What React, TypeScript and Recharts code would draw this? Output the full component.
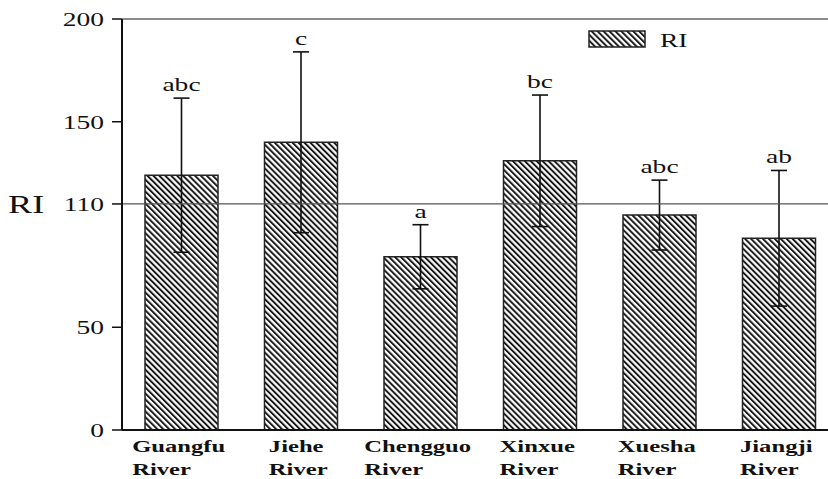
import React from 'react';
import { BarChart, Bar, XAxis, YAxis, ErrorBar, ReferenceLine, LabelList, Legend } from 'recharts';

const categories = ['Guangfu River', 'Jiehe River', 'Chengguo River', 'Xinxue River', 'Xuesha River', 'Jiangji River'];
const riValues = [124, 140, 84.3, 131, 104.6, 93.3];
const riErrors = [37.5, 44, 15.6, 32, 17, 33];
const sigLetters = ['abc', 'c', 'a', 'bc', 'abc', 'ab'];
const yTicks = [0, 50, 110, 150, 200];
const refValue = 110;

const data = categories.map((name, i) => ({ name, ri: riValues[i], err: riErrors[i], sig: sigLetters[i] }));

const FONT = "'Liberation Serif', 'DejaVu Serif', serif";
const SX = 1.45;

let measureCtx: CanvasRenderingContext2D | null = null;
function measure(text: string, font: string): number {
  if (!measureCtx) {
    const c = document.createElement('canvas');
    measureCtx = c.getContext('2d');
  }
  if (!measureCtx) return text.length * 8;
  measureCtx.font = font;
  return measureCtx.measureText(text).width;
}

const YTick = (props: any) => {
  const { x, y, payload } = props;
  return (
    <g transform={`translate(${x - 6},${y}) scale(${SX},1)`}>
      <text x={0} y={0} dy="0.36em" textAnchor="end" fontSize={19} fontFamily={FONT} fill="#111">
        {payload.value}
      </text>
    </g>
  );
};

const XTick = (props: any) => {
  const { x, y, payload } = props;
  const lines = String(payload.value).split(' ');
  const fs = 17;
  const w = Math.max(...lines.map((l) => measure(l, `bold ${fs}px 'Liberation Serif'`))) * SX;
  const left = x - w / 2 - 3;
  return (
    <g transform={`translate(${left},${y}) scale(${SX},1)`}>
      {lines.map((l, i) => (
        <text key={i} x={0} y={22 + i * 23} textAnchor="start" fontSize={fs} fontWeight="bold" fontFamily={FONT} fill="#111">
          {l}
        </text>
      ))}
    </g>
  );
};

const SigLabel = (props: any) => {
  const vb = props.viewBox || props;
  const { x, y, width, height } = vb;
  const index = props.index;
  const v = riValues[index];
  const e = riErrors[index];
  if (v === undefined || !height) return null;
  const ppu = height / v;
  const ty = y - e * ppu - 7;
  return (
    <g transform={`translate(${x + width / 2},${ty}) scale(${SX},1)`}>
      <text x={0} y={0} textAnchor="middle" fontSize={19} fontFamily={FONT} fill="#111">
        {props.value}
      </text>
    </g>
  );
};

const LegendContent = () => (
  <svg width={120} height={24} style={{ display: 'block', overflow: 'visible' }}>
    <defs>
      <pattern id="hatchLegend" patternUnits="userSpaceOnUse" width={4.2} height={4.2} patternTransform="rotate(-45)">
        <rect width={4.2} height={4.2} fill="#fff" />
        <line x1={1} y1={0} x2={1} y2={4.2} stroke="#111" strokeWidth={1.9} />
      </pattern>
    </defs>
    <rect x={1} y={2} width={56} height={16} fill="url(#hatchLegend)" stroke="#222" strokeWidth={1.5} />
    <g transform={`translate(72,18) scale(${SX},1)`}>
      <text x={0} y={0} fontSize={19} fontFamily={FONT} fill="#111">RI</text>
    </g>
  </svg>
);

export default function App() {
  return (
    <div style={{ position: 'absolute', left: 0, top: 0, width: 828, height: 479, overflow: 'hidden', background: '#fff' }}>
      <svg width={0} height={0} style={{ position: 'absolute' }}>
        <defs>
          <pattern id="hatch" patternUnits="userSpaceOnUse" width={4.2} height={4.2} patternTransform="rotate(-45)">
            <rect width={4.2} height={4.2} fill="#fff" />
            <line x1={1} y1={0} x2={1} y2={4.2} stroke="#111" strokeWidth={1.9} />
          </pattern>
        </defs>
      </svg>
      <BarChart width={850} height={479} data={data} margin={{ top: 0, right: 11, left: 0, bottom: 0 }}>
        <XAxis
          dataKey="name"
          height={49}
          axisLine={{ stroke: '#111', strokeWidth: 2 }}
          tickLine={false}
          tickSize={0}
          tickMargin={0}
          tick={<XTick />}
          interval={0}
        />
        <XAxis
          xAxisId="top"
          dataKey="name"
          orientation="top"
          height={19}
          axisLine={{ stroke: '#666', strokeWidth: 1.5 }}
          tickLine={{ stroke: '#888' }}
          tickSize={2}
          tick={false}
        />
        <YAxis
          width={122}
          domain={[0, 200]}
          ticks={yTicks}
          interval={0}
          axisLine={{ stroke: '#111', strokeWidth: 2 }}
          tickLine={{ stroke: '#111', strokeWidth: 1.5 }}
          tickSize={10}
          tickMargin={2}
          tick={<YTick />}
          label={{
            content: () => (
              <g transform={`translate(8,213) scale(${SX},1)`}>
                <text x={0} y={0} fontSize={25} fontFamily={FONT} fill="#111">RI</text>
              </g>
            ),
          }}
        />
        <Legend
          layout="horizontal"
          verticalAlign="middle"
          align="center"
          content={<LegendContent />}
          wrapperStyle={{ top: 29, left: 588, width: 'auto', height: 'auto' }}
        />
        <Bar dataKey="ri" barSize={73} fill="url(#hatch)" stroke="#222" strokeWidth={1.5} isAnimationActive={false}>
          <ErrorBar dataKey="err" width={8} stroke="#111" strokeWidth={1.6} direction="y" />
          <LabelList dataKey="sig" content={<SigLabel />} />
        </Bar>
        <ReferenceLine y={refValue} stroke="#555" strokeWidth={1.2} />
      </BarChart>
    </div>
  );
}
